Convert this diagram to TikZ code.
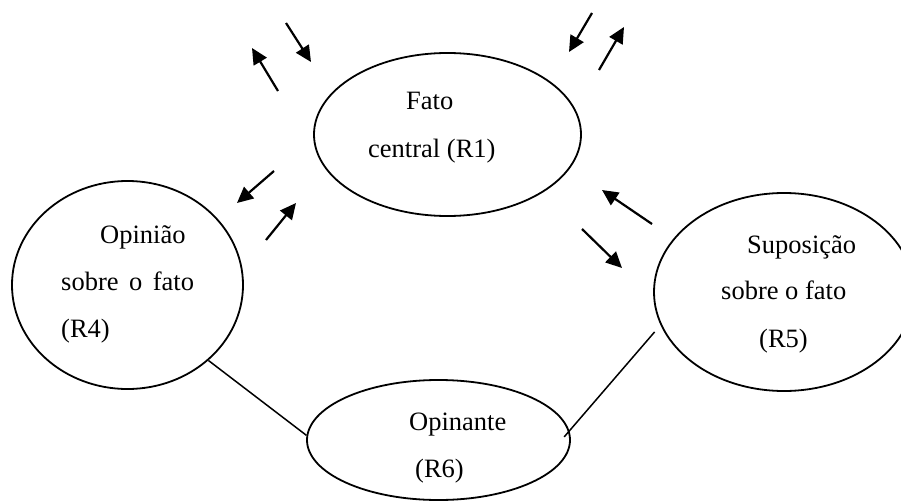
\documentclass[tikz,border=0pt]{standalone}
\usepackage{fontspec}
\setmainfont{Liberation Serif}
\usetikzlibrary{shapes.geometric,arrows.meta}
\begin{document}
\begin{tikzpicture}[x=1pt,y=-1pt,
  bubble/.style={draw, ellipse, line width=1.8pt, inner sep=0pt},
  txt/.style={anchor=base west, inner sep=0pt, font=\fontsize{26.5}{30}\selectfont},
  link/.style={line width=1.5pt},
  flow/.style={line width=2.2pt, -{Triangle[length=16pt,width=15pt]}}]
\useasboundingbox (0,0) rectangle (901,500);
\begin{scope}
\clip (0,0) rectangle (901,500);

% the four bubbles
\node[bubble, minimum width=267pt, minimum height=163pt] (r1) at (447.5,134.5) {};
\node[bubble, minimum width=231pt, minimum height=208pt] (r4) at (127.5,285) {};
\node[bubble, minimum width=260pt, minimum height=198pt] (r5) at (784,292) {};
\node[bubble, minimum width=263pt, minimum height=120pt] (r6) at (438.5,440) {};

% labels
\node[txt] (t1a) at (406,110) {Fato};
\node[txt] (t1b) at (368,157) {central (R1)};
\node[txt] (t4a) at (100,243) {Opinião};
\node[txt] (t4b) at (61,290) {sobre\hspace{10.5pt}o\hspace{10.5pt}fato};
\node[txt] (t4c) at (61,337) {(R4)};
\node[txt] (t5a) at (747,253) {Suposição};
\node[txt] (t5b) at (721,299) {sobre o fato};
\node[txt] (t5c) at (759,347) {(R5)};
\node[txt] (t6a) at (409,430) {Opinante};
\node[txt] (t6b) at (415,477) {(R6)};

% plain links to the bottom bubble
\draw[link] (r4.-43.3) -- (r6.178.3);
\draw[link, shorten <=9pt, shorten >=-8pt] (r5.195.6) -- (r6.4.4);

% loose arrows around the central fact
\coordinate (a1s) at (278,91);  \coordinate (a1e) at (252,48);
\coordinate (a2s) at (286,23);  \coordinate (a2e) at (311,62);
\coordinate (a3s) at (592,13);  \coordinate (a3e) at (569,52);
\coordinate (a4s) at (599,70);  \coordinate (a4e) at (624,27);
\coordinate (a5s) at (274,171); \coordinate (a5e) at (237,203);
\coordinate (a6s) at (266,240); \coordinate (a6e) at (296,203);
\coordinate (a7s) at (652,224); \coordinate (a7e) at (602,190);
\coordinate (a8s) at (582,229); \coordinate (a8e) at (622,268);
\foreach \k in {1,...,8}{\draw[flow] (a\k s) -- (a\k e);}
\end{scope}
\end{tikzpicture}
\end{document}
